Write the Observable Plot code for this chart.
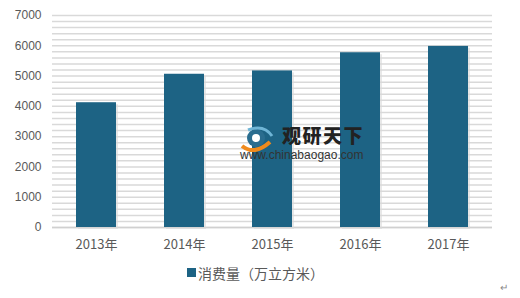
<!DOCTYPE html>
<html><head><meta charset="utf-8">
<script src="https://cdn.jsdelivr.net/npm/d3@7"></script>
<script src="https://cdn.jsdelivr.net/npm/@observablehq/plot@0.6"></script>
<style>
body{margin:0;background:#fff;}
#wrap{position:relative;width:520px;height:298px;overflow:hidden;font-family:"Liberation Sans",Arial,sans-serif;}
#legend{position:absolute;left:0;top:262px;width:520px;height:22px;font-family:"Noto Sans CJK SC",sans-serif;font-size:14px;color:#595959;}
#legend .sw{position:absolute;left:187px;top:6px;width:9px;height:9px;background:#1d6384;}
#legend .tx{position:absolute;left:198px;top:0px;line-height:22px;white-space:nowrap;}
#wm{position:absolute;left:238px;top:124px;width:140px;height:40px;}
#wm .cn{position:absolute;left:44px;top:0px;font-family:"Noto Sans CJK SC",sans-serif;font-weight:900;font-size:19px;letter-spacing:1.5px;color:#222;line-height:22px;}
#wm .url{position:absolute;left:2px;top:25px;font-family:"Liberation Sans",Arial,sans-serif;font-size:12px;color:#333;line-height:13px;}
#ret{position:absolute;left:500px;top:282px;font-size:10px;color:#888;}
</style></head>
<body><div id="wrap"><div id="chart"></div>
<div id="legend"><div class="sw"></div><div class="tx">消费量（万立方米）</div></div>
<div id="wm">
<svg width="40" height="26" style="position:absolute;left:0;top:2px">
<path d="M4 20 Q16 30 32 16" stroke="#f08a1c" stroke-width="4" fill="none"/>
<circle cx="18" cy="12" r="9" fill="#2a6d8f"/>
<circle cx="18" cy="12" r="4" fill="#fff"/>
<path d="M10 4 Q26 -2 34 10" stroke="#6fb5d6" stroke-width="3" fill="none"/>
</svg>
<div class="cn">观研天下</div><div class="url">www.chinabaogao.com</div></div>
<div id="ret">↵</div>
</div>
<script>
const years = ["2013年","2014年","2015年","2016年","2017年"];
const consumption = [4120, 5060, 5170, 5770, 5980];
const yTicks = [0,1000,2000,3000,4000,5000,6000,7000];
const gridValues = d3.range(0, 7001, 200);
const data = years.map((y,i)=>({year:y, value:consumption[i]}));

const chart = Plot.plot({
  width: 520, height: 262,
  marginLeft: 52, marginRight: 28, marginTop: 15, marginBottom: 35,
  style:{fontFamily:"Liberation Sans, Arial, sans-serif", fontSize:"12px", color:"#595959", background:"transparent"},
  x:{domain:years, paddingInner:0.545, paddingOuter:0.2725, label:null, tickSize:0, tickPadding:12},
  y:{domain:[0,7000], ticks:yTicks, label:null, tickSize:0, tickPadding:11},
  marks:[
    Plot.ruleY(gridValues, {stroke:"#d9d9d9", strokeWidth:1.5}),
    Plot.ruleY([0], {stroke:"#d0d0d0", strokeWidth:1.5}),
    Plot.barY(data, {x:"year", y:"value", fill:"#d8d8d8", dx:2, dy:2, fillOpacity:0.6}),
    Plot.barY(data, {x:"year", y:"value", fill:"#1d6384"}),
    Plot.axisY({ticks:yTicks, tickFormat:d=>String(d), tickSize:0, tickPadding:11, fontSize:12, label:null}),
    Plot.axisX({tickSize:0, tickPadding:12, fontSize:13, fontFamily:"Noto Sans CJK SC, sans-serif", label:null})
  ]
});
document.getElementById("chart").appendChild(chart);
</script>
</body></html>
